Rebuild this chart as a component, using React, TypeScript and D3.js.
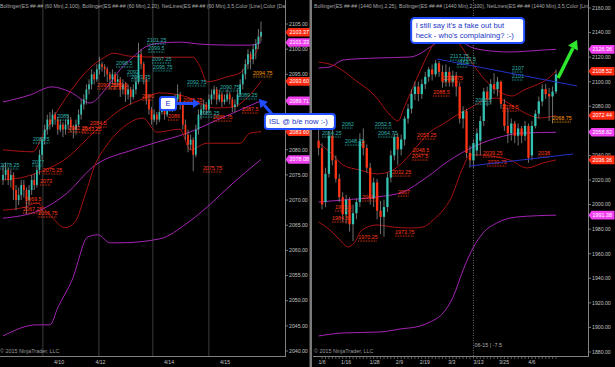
import React from 'react';
import * as d3 from 'd3';

type C = [number, number, number, number];
type P = [number, number];
type L = [string, number, number];

// ---------- LEFT PANEL (60 Min) ----------
const leftCandles: C[] = [
  [2074, 2077, 2073, 2075], [2075, 2077.5, 2074, 2076], [2076, 2076.5, 2073, 2074], [2074, 2076, 2072.5, 2075],
  [2075, 2075.5, 2070, 2072], [2072, 2073, 2068, 2070], [2070, 2072.5, 2069, 2071], [2071, 2074, 2070, 2073],
  [2073, 2074, 2070.5, 2072], [2072, 2072.5, 2067.25, 2070], [2070, 2073, 2069, 2072], [2072, 2075, 2071, 2074],
  [2074, 2075.25, 2072, 2073], [2073, 2077, 2072.5, 2076], [2076, 2080, 2075, 2079], [2079, 2082.5, 2078, 2082],
  [2082, 2085, 2081, 2084], [2084, 2087, 2083, 2086], [2086, 2087.5, 2084, 2085], [2085, 2088, 2084.5, 2087],
  [2087, 2087.5, 2085, 2086], [2086, 2086.5, 2083, 2084], [2084, 2086, 2083.5, 2085], [2085, 2085.5, 2082.5, 2084],
  [2084, 2086, 2083, 2085], [2085, 2087, 2084, 2086], [2086, 2086.5, 2083.5, 2084.5], [2084.5, 2085, 2082.25, 2084],
  [2084, 2086, 2083, 2085], [2085, 2088, 2084.5, 2087], [2087, 2090, 2086, 2089], [2089, 2091, 2088, 2090],
  [2090, 2093, 2089, 2092], [2092, 2094, 2091, 2093], [2093, 2096, 2092, 2095], [2095, 2095.5, 2093, 2094],
  [2094, 2097, 2093.5, 2096], [2096, 2098.5, 2095, 2097], [2097, 2097.5, 2095.5, 2096.5], [2096.5, 2097, 2094.5, 2096],
  [2096, 2096.5, 2093.5, 2095], [2095, 2095.5, 2092, 2094], [2094, 2096, 2093, 2095], [2095, 2095.5, 2092, 2093.5],
  [2093.5, 2095, 2092.5, 2094], [2094, 2094.5, 2090.5, 2092], [2092, 2094, 2091, 2093], [2093, 2093.5, 2089.5, 2091],
  [2091, 2093, 2090, 2092], [2092, 2092.5, 2089, 2090.5], [2090.5, 2093, 2090, 2092], [2092, 2094.5, 2091, 2093.5],
  [2093.5, 2101.25, 2093, 2099], [2099, 2100, 2096, 2097], [2097, 2097.5, 2093, 2094], [2094, 2094.5, 2089, 2090],
  [2090, 2091, 2087, 2088], [2088, 2088.5, 2085, 2086], [2086, 2088, 2085.5, 2087], [2087, 2087.5, 2085, 2086],
  [2086, 2088.5, 2085.5, 2087.5], [2087.5, 2089, 2087, 2088], [2088, 2088.5, 2086, 2087], [2087, 2089, 2086.5, 2088],
  [2088, 2090, 2087.5, 2089], [2089, 2089.5, 2087.5, 2088.5], [2088.5, 2091, 2088, 2090], [2090, 2093, 2089.5, 2091],
  [2091, 2091.5, 2088, 2089], [2089, 2089.5, 2084, 2085], [2085, 2086, 2082, 2083], [2083, 2084, 2079.5, 2081],
  [2081, 2083, 2080, 2082], [2082, 2082.5, 2075.75, 2079], [2079, 2085, 2078.5, 2084], [2084, 2088, 2083, 2087],
  [2087, 2089, 2086, 2088], [2088, 2090, 2087, 2089], [2089, 2089.5, 2087, 2088], [2088, 2091, 2087.5, 2090],
  [2090, 2092, 2089, 2091], [2091, 2092.75, 2090, 2092], [2092, 2092.5, 2089, 2090], [2090, 2092, 2089.5, 2091],
  [2091, 2091.5, 2088.5, 2089.5], [2089.5, 2091, 2089, 2090], [2090, 2092, 2089.5, 2091], [2091, 2091.5, 2089, 2090],
  [2090, 2090.5, 2087.5, 2088.5], [2088.5, 2090, 2087.5, 2089], [2089, 2092, 2088.5, 2091], [2091, 2094, 2090.5, 2093],
  [2093, 2096, 2092, 2095], [2095, 2098, 2094, 2097], [2097, 2100, 2096, 2099], [2099, 2099.5, 2096, 2098],
  [2098, 2101, 2097, 2100], [2100, 2102, 2098, 2101], [2101, 2104, 2100, 2102.5], [2102.5, 2105.5, 2101.5, 2103.4],
];

const leftBB100Upper: P[] = [[0, 2089.5], [10.4, 2090.9], [18.8, 2092.5], [25.7, 2091.5], [33.4, 2089.3], [39.1, 2091.9], [44.9, 2095.9], [50.7, 2098.8], [54.5, 2100.4], [60.2, 2101.2], [67.9, 2101.4], [75.6, 2101.0], [87.1, 2100.8], [94.8, 2100.8], [99, 2101.33]];
const leftBB100Mid: P[] = [[0, 2066.4], [14.2, 2068.0], [24.6, 2071.4], [34.5, 2076.6], [49.9, 2080.0], [59.1, 2081.5], [70.6, 2083.3], [82.1, 2085.9], [90.9, 2087.9], [99, 2089.71]];
const leftBB100Lower: P[] = [[0, 2043.0], [13.0, 2045.2], [18.0, 2045.2], [21.1, 2048.7], [26.5, 2054.1], [32.6, 2062.7], [36.4, 2063.1], [41.1, 2061.5], [44.9, 2061.5], [60.2, 2062.3], [70.6, 2065.4], [78.3, 2068.6], [88.3, 2073.4], [99, 2078.08]];
const leftBB20Upper: P[] = [[0, 2080.0], [11.5, 2079.6], [15.3, 2082.9], [19.9, 2086.9], [25.7, 2091.5], [33.4, 2096.3], [39.1, 2098.4], [42.2, 2099.2], [48.7, 2098.6], [60.2, 2098.4], [72.9, 2098.4], [75.6, 2096.5], [78.3, 2093.5], [86.0, 2094.5], [91.0, 2095.3], [94.8, 2097.8], [97.5, 2099.8], [99, 2103.37]];
const leftBB20Mid: P[] = [[0, 2074.0], [6.5, 2074.4], [14.2, 2075.6], [24.6, 2078.4], [34.5, 2083.3], [39.9, 2085.9], [46.0, 2088.3], [52.6, 2089.9], [60.2, 2091.3], [70.6, 2090.5], [75.6, 2089.3], [81.4, 2088.3], [88.3, 2088.5], [93.6, 2090.3], [99, 2093.60]];
const leftBB20Lower: P[] = [[0, 2068.0], [8.4, 2068.6], [13.0, 2069.4], [18.0, 2067.0], [23.8, 2064.5], [27.6, 2065.6], [31.5, 2071.0], [35.3, 2077.0], [39.1, 2080.4], [44.9, 2083.9], [53.7, 2086.3], [59.1, 2083.5], [67.9, 2084.1], [71.8, 2080.0], [78.3, 2081.3], [90.9, 2081.3], [94.8, 2083.3], [99, 2083.60]];

const leftCyanLabels: L[] = [["2101.25", 55.3, 2101.8], ["2099.5", 55.6, 2100.2], ["2097.25", 57.2, 2098.0], ["2095.75", 57.6, 2096.5], ["2098.5", 43.4, 2097.2], ["2092", 47.6, 2095.5], ["2093.75", 49.1, 2094.5], ["2085", 20.7, 2086.7], ["2081.5", 11.5, 2082.1], ["2078.25", -1.1, 2077.0], ["2077", 11.1, 2077.6], ["2092.75", 70.6, 2093.5], ["2090.75", 83.3, 2092.5], ["2089.25", 90.2, 2090.9], ["2085.25", 75.6, 2087.3]];
const leftRedLabels: L[] = [["2075.25", 15.3, 2076.0], ["2073", 14.2, 2073.8], ["2069.5", 8.4, 2070.2], ["2067.25", 7.7, 2068.2], ["2066.75", 13.4, 2067.4], ["2084.5", 33.4, 2085.3], ["2082.25", 24.9, 2084.3], ["2083.25", 30.3, 2084.1], ["2090.25", 36.1, 2092.9], ["2089.5", 41.5, 2092.9], ["2090", 53.3, 2090.7], ["2086", 63.3, 2086.7], ["2075.75", 76.7, 2076.4], ["2086.75", 80.6, 2086.5], ["2087.5", 91.7, 2088.1], ["2089.25", 69.1, 2089.9]];
const leftOrangeLabels: L[] = [["2094.75", 95.9, 2095.3]];

const leftTicks = [2105, 2100, 2095, 2090, 2085, 2080, 2075, 2070, 2065, 2060, 2055, 2050, 2045, 2040];
const leftTags: [number, string][] = [[2103.37, 'red'], [2101.33, 'purple'], [2093.60, 'red'], [2089.71, 'purple'], [2083.60, 'red'], [2078.08, 'purple']];
const leftDateLabels = ['4/10', '4/12', '4/14', '4/15'];
const leftDatePos = [21.5, 37.4, 63.7, 85.2];
const leftSessionBreaks = [15.3, 36.8, 57.5, 79];

// ---------- RIGHT PANEL (1440 Min) ----------
const rightCandles: C[] = [
  [2052, 2063, 2040, 2046], [2046, 2050, 1996, 2000], [2002, 2030, 1998, 2025], [2025, 2060, 2022, 2056],
  [2056, 2062, 2032, 2036], [2036, 2040, 2018, 2021], [2021, 2025, 2002, 2006], [2006, 2010, 1986, 1992],
  [1992, 2008, 1984.5, 2004], [2004, 2006, 1978, 1984], [1984, 2000, 1970.25, 1993], [1993, 2005, 1988, 2002],
  [2002, 2058, 1998, 2052], [2052, 2062, 2040, 2046], [2046, 2049, 2026, 2030], [2030, 2034, 2000, 2005],
  [2005, 2022, 1998, 2018], [2018, 2021, 1988, 1995], [1995, 2003, 1976, 1990], [1990, 2004, 1973.75, 1998],
  [1998, 2026, 1994, 2022], [2022, 2044, 2018, 2040], [2040, 2058, 2036, 2055], [2055, 2058, 2032.25, 2045],
  [2045, 2057, 2040, 2053], [2053, 2072, 2048, 2070], [2070, 2082, 2066, 2078], [2078, 2094, 2074, 2090],
  [2090, 2100, 2085, 2096], [2096, 2100, 2084, 2090], [2090, 2102, 2086, 2098], [2098, 2108, 2094, 2104],
  [2104, 2112, 2100, 2110], [2110, 2114, 2101, 2106], [2106, 2117.75, 2104, 2115], [2115, 2117, 2104, 2108],
  [2108, 2113.5, 2095, 2100], [2100, 2114, 2096, 2108], [2108, 2112, 2096, 2100], [2100, 2109, 2096, 2105],
  [2105, 2108, 2088, 2096], [2096, 2099, 2066, 2070], [2070, 2080, 2062, 2076], [2076, 2078, 2038, 2042],
  [2042, 2048, 2030, 2036], [2036, 2053, 2030, 2050], [2044, 2062, 2039.25, 2058], [2052, 2072, 2040, 2068],
  [2068, 2095, 2064, 2092], [2092, 2096, 2080, 2086], [2086, 2102, 2082, 2098], [2098, 2107, 2090, 2094],
  [2094, 2104, 2088, 2100], [2100, 2101, 2078, 2082], [2082, 2086, 2060, 2064], [2064, 2078.5, 2050, 2058],
  [2058, 2070, 2052, 2066], [2066, 2068, 2050, 2056], [2056, 2066, 2048, 2062], [2062, 2064, 2050, 2056],
  [2056, 2068, 2052, 2064], [2064, 2066, 2034, 2038], [2040, 2068, 2036, 2064], [2064, 2077, 2062, 2074],
  [2074, 2088, 2070, 2084], [2084, 2098, 2080, 2094], [2094, 2098, 2086, 2090], [2090, 2095, 2068, 2088],
  [2088, 2096, 2066, 2092], [2092, 2110, 2090, 2106],
];

const rightBB100Upper: P[] = [[0, 2111.2], [3.3, 2112.0], [7.1, 2117.7], [17.0, 2119.3], [26.6, 2120.1], [36.2, 2134.0], [40.2, 2136.4], [43.1, 2129.9], [47.8, 2125.8], [55.6, 2124.2], [65.2, 2125.8], [69, 2126.36]];
const rightBB100Mid: P[] = [[0, 2002.1], [7.1, 2003.7], [17.0, 2006.2], [24.5, 2010.2], [31.5, 2022.4], [38.2, 2036.3], [44.9, 2046.9], [51.8, 2054.2], [59.4, 2058.3], [69, 2058.82]];
const rightBB100Lower: P[] = [[0, 1893.0], [7.1, 1895.5], [17.9, 1896.3], [23.7, 1898.7], [29.5, 1901.2], [32.4, 1904.4], [36.2, 1911.8], [39.1, 1924.8], [42.0, 1946.8], [44.9, 1964.7], [47.8, 1976.9], [51.8, 1985.0], [57.7, 1989.9], [69, 1991.38]];
const rightBB25Upper: P[] = [[0, 2116.0], [4.8, 2112.8], [10.6, 2101.4], [16.4, 2088.4], [20.8, 2072.9], [23.1, 2068.0], [24.8, 2078.6], [27.7, 2097.3], [30.3, 2113.6], [32.4, 2125.8], [34.7, 2135.6], [37.6, 2138.9], [40.5, 2132.3], [44.0, 2117.7], [48.4, 2101.4], [52.7, 2091.6], [56.2, 2088.4], [59.7, 2093.3], [63.2, 2097.3], [66.1, 2101.4], [69, 2108.52]];
const rightBB25Mid: P[] = [[0, 2050.1], [3.3, 2042.8], [7.1, 2032.2], [12.0, 2028.1], [17.0, 2024.9], [21.6, 2028.1], [25.1, 2036.3], [28.9, 2048.5], [32.4, 2059.1], [36.2, 2065.6], [40.2, 2072.9], [44.0, 2078.6], [48.4, 2085.1], [51.8, 2086.7], [55.6, 2081.9], [59.4, 2075.4], [64.4, 2070.5], [69, 2072.44]];
const rightBB25Lower: P[] = [[0, 1985.8], [3.3, 1979.3], [6.8, 1969.5], [8.5, 1965.5], [10.3, 1968.7], [12.6, 1979.3], [17.0, 1983.4], [21.6, 1981.7], [26.6, 1980.9], [30.3, 1981.7], [33.3, 1987.4], [36.2, 1995.6], [38.2, 2003.7], [42.0, 2030.6], [44.0, 2040.4], [46.0, 2040.4], [51.8, 2038.7], [55.6, 2036.3], [60.6, 2029.8], [65.2, 2033.8], [69, 2036.36]];

const rightCyanLabels: L[] = [["2117.75", 38.2, 2120.9], ["2113.5", 41.1, 2118.5], ["2114", 40.2, 2115.2], ["2107", 56.2, 2111.2], ["2101", 56.2, 2104.7], ["2082.5", 45.5, 2085.1], ["2062", 6.8, 2065.6], ["2064.25", 1.0, 2058.3], ["2048.25", 7.7, 2051.7], ["2052.5", 16.4, 2065.6], ["2064.75", 17.3, 2058.3]];
const rightRedLabels: L[] = [["2096.75", 36.2, 2103.0], ["2088.5", 33.3, 2091.6], ["2053.25", 28.6, 2056.6], ["2048.5", 27.4, 2044.4], ["2047.5", 27.1, 2039.5], ["2032.25", 21.3, 2026.5], ["2007", 23.1, 2010.2], ["2001.5", 12.6, 2006.2], ["1993.5", 4.8, 1998.0], ["1984.5", 3.9, 1989.1], ["1970.25", 11.5, 1973.6], ["1973.75", 22.2, 1977.7], ["2039.25", 47.8, 2042.0], ["2030.75", 49.0, 2034.7], ["2078.5", 53.3, 2079.4], ["2038", 63.8, 2042.0]];
const rightOrangeLabels: L[] = [["2068.75", 67.9, 2070.5]];

const rightTicks = [2160, 2140, 2120, 2100, 2080, 2060, 2040, 2020, 2000, 1980, 1960, 1940, 1920, 1900, 1880];
const rightTags: [number, string][] = [[2126.36, 'purple'], [2108.52, 'red'], [2072.44, 'red'], [2058.82, 'purple'], [2036.36, 'red'], [1991.38, 'purple']];
const rightDateLabels = ['1/6', '1/16', '1/28', '2/9', '2/19', '3/3', '3/13', '3/25', '4/6'];
const rightDatePos = [1, 8, 16.3, 23.5, 30.9, 38.7, 46.5, 53.9, 62];
const rolloverIndex = 45;
const trendUpper: P[] = [[34.4, 2118.5], [75.1, 2096.5]];
const trendLower: P[] = [[44.0, 2031.4], [74.0, 2041.2]];

// annotations (index, price anchors)
const eBox = { i0: 60.2, i1: 66.4, v: 2089.2, tip: 75.6 };
const islBox = { i: 100.5, v: 2085.6, tailI: 103.2, tailV: 2087.1, tipI: 98.2, tipV: 2090.1 };
const noteBox = { i: 26.9, v: 2151.9 };
const greenArrow = { i0: 69.6, v0: 2103.0, i1: 75.1, v1: 2134.0 };

const leftHeader = 'Bollinger(ES ##-## (60 Min),2,100), Bollinger(ES ##-## (60 Min),2,20), NetLines(ES ##-## (60 Min),3,5,Color [Line],Color [Da';
const rightHeader = 'Bollinger(ES ##-## (1440 Min),2,25), Bollinger(ES ##-## (1440 Min),2,100), NetLines(ES ##-## (1440 Min),3,5,Color [Lin';

const FONT = 'Liberation Sans, Arial, sans-serif';
const UP = '#35c2b2';
const DOWN = '#ff3414';
const PURPLE = '#a424b4';
const DKRED = '#a81212';
const CYANTXT = '#2fb3b0';
const REDTXT = '#ff3a1a';
const ORTXT = '#ff9a10';
const BLUE = '#1f4dff';

const xL = d3.scaleLinear().domain([0, 99]).range([3, 261]);
const yL = d3.scaleLinear().domain([2040, 2105]).range([351, 24]);
const xR = d3.scaleLinear().domain([0, 69]).range([318.6, 556]);
const yR = d3.scaleLinear().domain([1880, 2160]).range([352, 8]);

function bandPath(pts: P[], x: any, y: any) {
  return d3.line<P>().x(d => x(d[0])).y(d => y(d[1])).curve(d3.curveMonotoneX)(pts) || '';
}

function Candles({ data, x, y, w }: { data: C[]; x: any; y: any; w: number }) {
  return (
    <g>
      {data.map((d, i) => {
        const [o, h, l, c] = d;
        const cx = x(i);
        const top = y(Math.max(o, c));
        const bot = y(Math.min(o, c));
        return (
          <g key={i}>
            <line x1={cx} x2={cx} y1={y(h)} y2={y(l)} stroke="#8a8a8a" strokeWidth={0.8} />
            <rect x={cx - w / 2} y={top} width={w} height={Math.max(0.8, bot - top)} fill={c >= o ? UP : DOWN} />
          </g>
        );
      })}
    </g>
  );
}

function Labels({ data, x, y, color }: { data: L[]; x: any; y: any; color: string }) {
  return (
    <g>
      {data.map((d, i) => {
        const px = x(d[1]);
        const py = y(d[2]);
        const wdt = d[0].length * 2.75;
        return (
          <g key={i}>
            <text x={px} y={py + 1.8} fill={color} fontSize={5.4} fontFamily={FONT}>{d[0]}</text>
            <line x1={px} x2={px + wdt} y1={py + 3.2} y2={py + 3.2} stroke={color} strokeWidth={0.6} strokeDasharray="0.8,0.8" />
            <line x1={px} x2={px + wdt} y1={py + 4.4} y2={py + 4.4} stroke={color} strokeWidth={0.6} strokeDasharray="0.8,0.8" />
          </g>
        );
      })}
    </g>
  );
}

function Tag({ x0, py, value, kind }: { x0: number; py: number; value: number; kind: string }) {
  const fill = kind === 'red' ? '#ff2a12' : '#f040f0';
  const pts = `${x0},${py} ${x0 + 3},${py - 4.3} ${x0 + 26},${py - 4.3} ${x0 + 26},${py + 4.3} ${x0 + 3},${py + 4.3}`;
  return (
    <g>
      <polygon points={pts} fill={fill} />
      <text x={x0 + 4} y={py + 1.9} fill="#ffffff" fontSize={5.4} fontFamily={FONT}>{value.toFixed(2)}</text>
    </g>
  );
}

function Arrow({ x1, y1, x2, y2, color, width, head, headW }: any) {
  const ang = Math.atan2(y2 - y1, x2 - x1);
  const bx = x2 - head * Math.cos(ang);
  const by = y2 - head * Math.sin(ang);
  const px = -Math.sin(ang) * headW;
  const py = Math.cos(ang) * headW;
  return (
    <g>
      <line x1={x1} y1={y1} x2={bx} y2={by} stroke={color} strokeWidth={width} />
      <polygon points={`${x2},${y2} ${bx + px},${by + py} ${bx - px},${by - py}`} fill={color} />
    </g>
  );
}

export default function App() {
  const bottomY = 356;
  return (
    <div style={{ position: 'absolute', left: 0, top: 0 }}>
      <svg width={615} height={367} style={{ display: 'block', background: '#000' }}>
        <defs>
          <clipPath id="clipL"><rect x={0} y={0} width={285} height={367} /></clipPath>
          <clipPath id="clipR"><rect x={313} y={0} width={275} height={367} /></clipPath>
        </defs>
        <rect x={0} y={0} width={615} height={367} fill="#000" />

        {/* LEFT PANEL */}
        <g clipPath="url(#clipL)">
          {leftSessionBreaks.map((b, i) => (
            <line key={i} x1={xL(b)} x2={xL(b)} y1={0} y2={bottomY} stroke="#3c3c3c" strokeWidth={1} />
          ))}
          <text x={0} y={8} fill="#a8a8a8" fontSize={6.2} fontFamily={FONT} textLength={285} lengthAdjust="spacingAndGlyphs">{leftHeader}</text>
          <path d={bandPath(leftBB100Upper, xL, yL)} fill="none" stroke={PURPLE} strokeWidth={1} />
          <path d={bandPath(leftBB100Mid, xL, yL)} fill="none" stroke={PURPLE} strokeWidth={1} />
          <path d={bandPath(leftBB100Lower, xL, yL)} fill="none" stroke={PURPLE} strokeWidth={1} />
          <path d={bandPath(leftBB20Upper, xL, yL)} fill="none" stroke={DKRED} strokeWidth={1} />
          <path d={bandPath(leftBB20Mid, xL, yL)} fill="none" stroke={DKRED} strokeWidth={1} />
          <path d={bandPath(leftBB20Lower, xL, yL)} fill="none" stroke={DKRED} strokeWidth={1} />
          <Candles data={leftCandles} x={xL} y={yL} w={1.7} />
          <Labels data={leftCyanLabels} x={xL} y={yL} color={CYANTXT} />
          <Labels data={leftRedLabels} x={xL} y={yL} color={REDTXT} />
          <Labels data={leftOrangeLabels} x={xL} y={yL} color={ORTXT} />
          <text x={0} y={353} fill="#9a9a9a" fontSize={5.4} fontFamily={FONT}>© 2015 NinjaTrader, LLC</text>
        </g>
        <line x1={285.5} x2={285.5} y1={0} y2={bottomY} stroke="#808080" strokeWidth={1} />
        <line x1={0} x2={286} y1={bottomY + 0.5} y2={bottomY + 0.5} stroke="#808080" strokeWidth={1} />
        {leftTicks.map((t, i) => (
          <g key={i}>
            <line x1={285.5} x2={288} y1={yL(t)} y2={yL(t)} stroke="#909090" strokeWidth={0.8} />
            <text x={289} y={yL(t) + 1.8} fill="#c0c0c0" fontSize={5.2} fontFamily={FONT}>{t.toFixed(2)}</text>
          </g>
        ))}
        {leftDateLabels.map((t, i) => (
          <text key={i} x={xL(leftDatePos[i])} y={363.5} fill="#c0c0c0" fontSize={5.2} fontFamily={FONT} textAnchor="middle">{t}</text>
        ))}
        {leftTags.map((t, i) => <Tag key={i} x0={285.5} py={yL(t[0])} value={t[0]} kind={t[1]} />)}

        {/* separator */}
        <rect x={309.5} y={0} width={2.5} height={367} fill="#7a7a7a" />

        {/* RIGHT PANEL */}
        <g clipPath="url(#clipR)">
          <line x1={xR(rolloverIndex)} x2={xR(rolloverIndex)} y1={0} y2={bottomY} stroke="#8a8a8a" strokeWidth={0.8} strokeDasharray="1,1.5" />
          <text x={314} y={8} fill="#a8a8a8" fontSize={6.2} fontFamily={FONT} textLength={274} lengthAdjust="spacingAndGlyphs">{rightHeader}</text>
          <path d={bandPath(rightBB100Upper, xR, yR)} fill="none" stroke={PURPLE} strokeWidth={1} />
          <path d={bandPath(rightBB100Mid, xR, yR)} fill="none" stroke={PURPLE} strokeWidth={1} />
          <path d={bandPath(rightBB100Lower, xR, yR)} fill="none" stroke={PURPLE} strokeWidth={1} />
          <path d={bandPath(rightBB25Upper, xR, yR)} fill="none" stroke={DKRED} strokeWidth={1} />
          <path d={bandPath(rightBB25Mid, xR, yR)} fill="none" stroke={DKRED} strokeWidth={1} />
          <path d={bandPath(rightBB25Lower, xR, yR)} fill="none" stroke={DKRED} strokeWidth={1} />
          <Candles data={rightCandles} x={xR} y={yR} w={2.3} />
          <Labels data={rightCyanLabels} x={xR} y={yR} color={CYANTXT} />
          <Labels data={rightRedLabels} x={xR} y={yR} color={REDTXT} />
          <Labels data={rightOrangeLabels} x={xR} y={yR} color={ORTXT} />
          <line x1={xR(trendUpper[0][0])} y1={yR(trendUpper[0][1])} x2={xR(trendUpper[1][0])} y2={yR(trendUpper[1][1])} stroke="#2233c8" strokeWidth={1} />
          <line x1={xR(trendLower[0][0])} y1={yR(trendLower[0][1])} x2={xR(trendLower[1][0])} y2={yR(trendLower[1][1])} stroke="#2233c8" strokeWidth={1} />
          <text x={xR(rolloverIndex) + 1} y={347} fill="#b0b0b0" fontSize={5.4} fontFamily={FONT}>06-15 | -7.5</text>
          <text x={314} y={353} fill="#9a9a9a" fontSize={5.4} fontFamily={FONT}>© 2015 NinjaTrader, LLC</text>
        </g>
        <line x1={588.5} x2={588.5} y1={0} y2={bottomY} stroke="#808080" strokeWidth={1} />
        <line x1={313} x2={589} y1={bottomY + 0.5} y2={bottomY + 0.5} stroke="#808080" strokeWidth={1} />
        {rightCandles.map((_, i) => (
          i > 0 ? <line key={i} x1={xR(i)} x2={xR(i)} y1={bottomY + 1} y2={bottomY + 3} stroke="#909090" strokeWidth={0.6} /> : null
        ))}
        {rightTicks.map((t, i) => (
          <g key={i}>
            <line x1={588.5} x2={591} y1={yR(t)} y2={yR(t)} stroke="#909090" strokeWidth={0.8} />
            <text x={592} y={yR(t) + 1.8} fill="#c0c0c0" fontSize={5.2} fontFamily={FONT}>{t.toFixed(2)}</text>
          </g>
        ))}
        {rightDateLabels.map((t, i) => (
          <text key={i} x={xR(rightDatePos[i])} y={363.5} fill="#c0c0c0" fontSize={5.2} fontFamily={FONT} textAnchor="middle">{t}</text>
        ))}
        {rightTags.map((t, i) => <Tag key={i} x0={588.5} py={yR(t[0])} value={t[0]} kind={t[1]} />)}

        {/* ANNOTATIONS */}
        <Arrow x1={xL(eBox.i1)} y1={yL(eBox.v)} x2={xL(eBox.tip)} y2={yL(eBox.v)} color={BLUE} width={3} head={7} headW={4.5} />
        <rect x={xL(eBox.i0)} y={yL(eBox.v) - 6.5} width={xL(eBox.i1) - xL(eBox.i0)} height={13} rx={2.5} fill="#fff" stroke={BLUE} strokeWidth={2} />
        <text x={(xL(eBox.i0) + xL(eBox.i1)) / 2} y={yL(eBox.v) + 2.7} fill="#1a36c8" fontSize={7.6} fontFamily={FONT} textAnchor="middle">E</text>

        <Arrow x1={xL(islBox.tailI)} y1={yL(islBox.tailV)} x2={xL(islBox.tipI)} y2={yL(islBox.tipV)} color={BLUE} width={3} head={8} headW={5} />
        <rect x={xL(islBox.i)} y={yL(islBox.v) - 7.5} width={70} height={15} rx={3} fill="#fff" stroke={BLUE} strokeWidth={2} />
        <text x={xL(islBox.i) + 4} y={yL(islBox.v) + 2.8} fill="#1a36c8" fontSize={7.6} fontFamily={FONT}>ISL @ b/e now :-)</text>

        <rect x={xR(noteBox.i)} y={yR(noteBox.v)} width={113} height={25} rx={3.5} fill="#fff" stroke={BLUE} strokeWidth={2} />
        <text x={xR(noteBox.i) + 4.5} y={yR(noteBox.v) + 10} fill="#1a36c8" fontSize={7.6} fontFamily={FONT}>I still say it's a fake out but</text>
        <text x={xR(noteBox.i) + 4.5} y={yR(noteBox.v) + 20.5} fill="#1a36c8" fontSize={7.6} fontFamily={FONT}>heck - who's complaining? :-)</text>

        <Arrow x1={xR(greenArrow.i0)} y1={yR(greenArrow.v0)} x2={xR(greenArrow.i1)} y2={yR(greenArrow.v1)} color="#2ee82e" width={3.5} head={9} headW={5.5} />
      </svg>
    </div>
  );
}
